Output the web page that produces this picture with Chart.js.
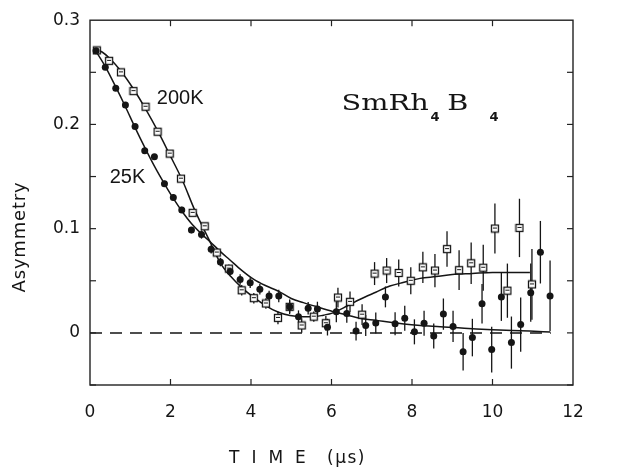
<!DOCTYPE html>
<html><head><meta charset="utf-8">
<script src="https://cdn.jsdelivr.net/npm/chart.js@4.4.1/dist/chart.umd.min.js"></script>
<style>html,body{margin:0;padding:0;background:#fff;}#wrap{width:640px;height:472px;}</style>
</head><body><div id="wrap"><canvas id="c" width="640" height="472"></canvas></div>
<script>
// ---- data ----
const t25 = [0.15,0.38,0.64,0.88,1.12,1.36,1.6,1.85,2.07,2.28,2.52,2.77,3.01,3.24,3.48,3.73,3.98,4.22,4.45,4.69,4.96,5.18,5.42,5.65,5.9,6.12,6.38,6.61,6.85,7.1,7.34,7.58,7.82,8.06,8.3,8.54,8.78,9.02,9.27,9.5,9.74,9.98,10.22,10.47,10.7,10.95,11.19,11.43];
const a25 = [0.2707,0.2549,0.2347,0.2186,0.198,0.1748,0.169,0.143,0.130,0.118,0.0986,0.0944,0.0802,0.0679,0.059,0.0513,0.0481,0.0418,0.0355,0.0355,0.0251,0.0156,0.0236,0.0229,0.0055,0.0203,0.0187,0.0017,0.0071,0.0095,0.0345,0.0087,0.014,0.001,0.0093,-0.003,0.018,0.0062,-0.018,-0.0045,0.028,-0.016,0.0345,-0.0093,0.008,0.0386,0.0774,0.0355];
const e25 = [0.002,0.002,0.002,0.002,0.002,0.002,0.002,0.003,0.003,0.003,0.003,0.004,0.004,0.004,0.004,0.005,0.005,0.005,0.005,0.006,0.007,0.006,0.006,0.007,0.008,0.01,0.009,0.009,0.01,0.01,0.01,0.011,0.012,0.012,0.012,0.012,0.015,0.015,0.018,0.018,0.019,0.022,0.023,0.025,0.026,0.028,0.03,0.034];

const t200 = [0.17,0.475,0.77,1.08,1.38,1.68,1.98,2.26,2.55,2.85,3.15,3.45,3.77,4.07,4.37,4.67,4.96,5.26,5.56,5.86,6.16,6.46,6.76,7.07,7.37,7.67,7.97,8.27,8.57,8.87,9.17,9.47,9.77,10.06,10.37,10.67,10.98];
const a200 = [0.271,0.261,0.25,0.232,0.217,0.193,0.172,0.148,0.1152,0.1023,0.0771,0.0617,0.0409,0.0333,0.0282,0.0144,0.025,0.0071,0.0156,0.0093,0.0339,0.0298,0.0175,0.0569,0.0598,0.0575,0.05,0.0629,0.0598,0.0804,0.0602,0.0668,0.0625,0.1001,0.0405,0.1007,0.0465];
const e200 = [0.002,0.002,0.002,0.002,0.002,0.002,0.002,0.002,0.003,0.003,0.004,0.004,0.005,0.005,0.005,0.006,0.006,0.007,0.005,0.007,0.0095,0.01,0.01,0.011,0.012,0.013,0.013,0.015,0.016,0.017,0.019,0.02,0.022,0.024,0.026,0.028,0.034];

const fit200T = [0.11,0.3,0.5,0.77,1.08,1.38,1.68,1.98,2.3,2.6,2.98,3.24,3.5,3.77,4.07,4.37,4.67,4.97,5.25,5.55,5.8,6.02,6.4,6.7,7.1,7.45,7.8,8.2,8.6,9.0,9.5,10.0,10.5,10.93];
const fit200A = [0.2725,0.2695,0.263,0.251,0.234,0.215,0.194,0.171,0.146,0.118,0.0876,0.067,0.054,0.0434,0.034,0.026,0.020,0.0166,0.0155,0.0155,0.017,0.019,0.026,0.032,0.039,0.045,0.0485,0.0523,0.054,0.056,0.057,0.058,0.058,0.058];
const fit25T = [0.11,0.38,0.64,0.88,1.12,1.36,1.6,1.85,2.07,2.28,2.52,2.77,2.98,3.24,3.47,3.77,4.07,4.37,4.67,5.0,5.3,5.6,6.03,6.4,6.7,7.1,7.46,7.8,8.21,8.7,9.15,9.6,10.0,10.5,10.92,11.43];
const fit25A = [0.2725,0.2555,0.236,0.217,0.197,0.178,0.16,0.143,0.129,0.117,0.105,0.095,0.0876,0.078,0.0702,0.060,0.0513,0.0452,0.0402,0.033,0.029,0.0255,0.0206,0.017,0.014,0.012,0.0102,0.0085,0.0071,0.006,0.0049,0.0038,0.003,0.0022,0.0017,0.0008];
const baseT = [0, 11.45];
const baseA = [0, 0];

const xTickVals = [0,2,4,6,8,10,12];
const yTickVals = [0,0.1,0.2,0.3];
const yTickLabels = ['0','0.1','0.2','0.3'];
const yMarkVals = [-0.05,0,0.05,0.1,0.15,0.2,0.25];
const xMarkVals = [2,4,6,8,10];

const pts = (xs, ys) => xs.map((x, i) => ({x: x, y: ys[i]}));
const INK = '#151515';

// open square marker with a short inner bar, as in the scan
const sq = document.createElement('canvas');
sq.width = 10; sq.height = 10;
(function () {
  const g = sq.getContext('2d');
  g.fillStyle = '#fff'; g.fillRect(1, 1, 8, 8);
  g.strokeStyle = INK; g.lineWidth = 1.3;
  g.strokeRect(1.5, 1.5, 7, 7);
  g.lineWidth = 1;
  g.beginPath(); g.moveTo(3, 4.5); g.lineTo(7, 4.5); g.stroke();
})();

const errorBars = {
  id: 'errorBars',
  beforeDatasetsDraw(chart) {
    const {ctx, scales: {x, y}} = chart;
    ctx.save();
    ctx.strokeStyle = INK; ctx.lineWidth = 1.3;
    const draw = (ts, as, es) => {
      ts.forEach((t, i) => {
        const px = x.getPixelForValue(t);
        ctx.beginPath();
        ctx.moveTo(px, y.getPixelForValue(as[i] - es[i]));
        ctx.lineTo(px, y.getPixelForValue(as[i] + es[i]));
        ctx.stroke();
      });
    };
    draw(t25, a25, e25);
    draw(t200, a200, e200);
    ctx.restore();
  }
};

const frame = {
  id: 'frame',
  afterDraw(chart) {
    const {ctx, chartArea: ca, scales: {x, y}} = chart;
    ctx.save();
    ctx.strokeStyle = '#222'; ctx.lineWidth = 1.4;
    ctx.strokeRect(ca.left, ca.top, ca.right - ca.left, ca.bottom - ca.top);
    ctx.lineWidth = 1.2;
    const L = 6;
    yMarkVals.forEach(v => {
      const py = y.getPixelForValue(v);
      ctx.beginPath(); ctx.moveTo(ca.left, py); ctx.lineTo(ca.left + L, py); ctx.stroke();
      ctx.beginPath(); ctx.moveTo(ca.right, py); ctx.lineTo(ca.right - L, py); ctx.stroke();
    });
    xMarkVals.forEach(v => {
      const px = x.getPixelForValue(v);
      ctx.beginPath(); ctx.moveTo(px, ca.bottom); ctx.lineTo(px, ca.bottom - L); ctx.stroke();
      ctx.beginPath(); ctx.moveTo(px, ca.top); ctx.lineTo(px, ca.top + L); ctx.stroke();
    });
    // series labels
    ctx.fillStyle = INK;
    ctx.textBaseline = 'alphabetic';
    ctx.textAlign = 'left';
    ctx.font = '20px "Liberation Sans"';
    ctx.fillText('200K', x.getPixelForValue(1.66), y.getPixelForValue(0.22));
    ctx.fillText('25K', x.getPixelForValue(0.49), y.getPixelForValue(0.1435));
    // compound name
    const sx0 = x.getPixelForValue(6.25), sy0 = y.getPixelForValue(0.2137);
    ctx.save();
    ctx.translate(sx0, sy0); ctx.scale(1.25, 1);
    ctx.font = '23px "DejaVu Serif"';
    ctx.fillText('SmRh', 0, 0);
    ctx.fillText('B', 84.5, 0);
    ctx.restore();
    ctx.font = 'bold 13px "DejaVu Sans"';
    ctx.fillText('4', sx0 + 89, sy0 + 11);
    ctx.fillText('4', sx0 + 148, sy0 + 11);
    // y title
    ctx.save();
    ctx.translate(20, 237); ctx.rotate(-Math.PI / 2);
    ctx.textAlign = 'center'; ctx.textBaseline = 'middle';
    ctx.font = '18px "DejaVu Sans"';
    ctx.letterSpacing = '0.8px';
    ctx.fillText('Asymmetry', 0, 0);
    ctx.restore();
    // x title
    ctx.font = '17px "DejaVu Sans"';
    ctx.textBaseline = 'alphabetic';
    ctx.textAlign = 'left';
    ctx.letterSpacing = '12px';
    ctx.fillText('TIME', 229, 463);
    ctx.letterSpacing = '1.5px';
    ctx.fillText('(\u03bcs)', 327, 463);
    ctx.letterSpacing = '0px';
    ctx.restore();
  }
};

new Chart(document.getElementById('c'), {
  type: 'scatter',
  data: {
    datasets: [
      {data: pts(t25, a25), pointStyle: 'circle', pointRadius: 3.5, backgroundColor: INK, borderColor: INK, borderWidth: 0, showLine: false},
      {data: pts(t200, a200), pointStyle: sq, pointRadius: 5, showLine: false},
      {data: pts(fit200T, fit200A), showLine: true, pointRadius: 0, borderColor: INK, borderWidth: 1.5, cubicInterpolationMode: 'monotone', fill: false},
      {data: pts(fit25T, fit25A), showLine: true, pointRadius: 0, borderColor: INK, borderWidth: 1.5, cubicInterpolationMode: 'monotone', fill: false},
      {data: pts(baseT, baseA), showLine: true, pointRadius: 0, borderColor: INK, borderWidth: 1.5, borderDash: [12, 8], fill: false}
    ]
  },
  options: {
    responsive: false, animation: false, devicePixelRatio: 1,
    layout: {padding: {left: 0, right: 67, top: 15, bottom: 0}},
    plugins: {legend: {display: false}, tooltip: {enabled: false}},
    scales: {
      x: {
        type: 'linear', min: 0, max: 12,
        afterBuildTicks: s => { s.ticks = xTickVals.map(v => ({value: v})); },
        afterFit: s => { s.height = 87; },
        grid: {display: false, drawTicks: false}, border: {display: false},
        ticks: {color: INK, padding: 17, maxRotation: 0, autoSkip: false, font: {family: 'DejaVu Sans', size: 17}, callback: v => String(v)}
      },
      y: {
        type: 'linear', min: -0.05, max: 0.3,
        afterBuildTicks: s => { s.ticks = yTickVals.map(v => ({value: v})); },
        afterFit: s => { s.width = 90; },
        grid: {display: false, drawTicks: false}, border: {display: false},
        ticks: {color: INK, padding: 10, font: {family: 'DejaVu Sans', size: 17}, callback: (v, i) => yTickLabels[i]}
      }
    }
  },
  plugins: [errorBars, frame]
});
</script></body></html>
